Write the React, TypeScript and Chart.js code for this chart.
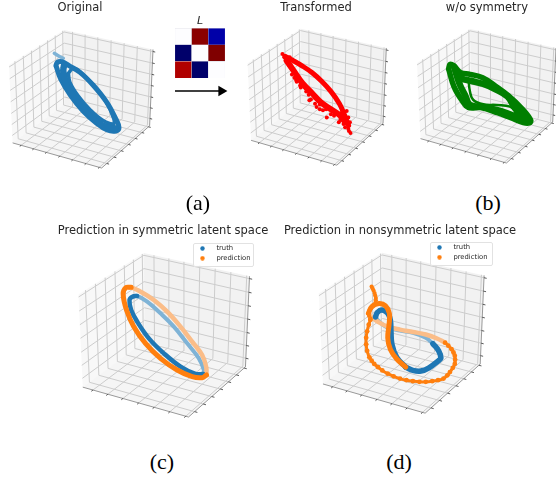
import React, { useEffect, useRef } from "react";
import { Chart, registerables } from "chart.js";

Chart.register(...registerables);

type P = number[];

// ---- values (units: crop units of each panel) ----
const originalOuter: P[] = [[168,197],[172,187],[185,185],[207,197],[240,217],[279,255],[319,305],[348,358],[357,383],[347,393],[322,390],[288,368],[250,334],[211,285],[182,237]];
const originalInner: P[] = [[205,220],[220,205],[245,220],[281,256],[316,302],[341,355],[340,372],[307,360],[271,330],[235,288],[210,247]];
const originalMiddle: P[] = [[192,196],[190,215],[200,250],[230,295],[265,335],[305,375],[345,385]];
const originalTail: P[] = [[163,160],[176,168],[190,175]];

const redBand: P[] = [[370,172],[395,185],[425,202],[455,222],[485,248],[515,280],[542,318],[557,350],[571,385]];
const redLower: P[] = [[375,185],[400,220],[425,255],[455,285],[485,315],[515,335],[545,355],[560,375]];
const redScatter: P[] = [[362,165],[368,175],[378,180],[385,175],[393,212],[384,200],[392,228],[405,245],[407,250],[400,238],[418,262],[420,268],[412,240],[437,280],[445,290],[447,307],[435,270],[452,305],[465,300],[470,328],[465,318],[480,320],[480,335],[490,338],[502,360],[500,335],[525,355],[515,350],[530,345],[540,375],[545,368],[550,345],[555,380],[560,365],[565,340],[570,360],[575,375],[570,395],[577,408],[572,402],[560,390]];

const greenA: P[] = [[146,207],[150,193],[162,198],[182,218],[210,223],[248,233],[286,258],[325,287],[365,325],[392,360],[388,369],[370,368],[332,353],[292,338],[242,323],[205,322],[185,300],[162,260]];
const greenB: P[] = [[162,200],[185,235],[215,243],[250,252],[285,267],[323,290],[345,325],[375,360],[330,343],[290,330],[245,320],[210,315],[195,285],[178,250]];
const greenC: P[] = [[205,235],[210,275],[220,300],[250,313],[290,315],[330,320],[360,345]];

const symTruthFront: P[] = [[290,228],[276,230],[267,240],[272,270],[292,308],[325,355],[370,400],[420,440],[465,462],[488,462]];
const symTruthBack: P[] = [[276,230],[290,228],[320,245],[360,280],[400,320],[440,370],[475,415],[490,450],[488,462]];
const symPredFront: P[] = [[272,202],[256,203],[248,222],[258,270],[280,320],[315,370],[360,415],[410,450],[455,470],[485,473],[498,465]];
const symPredBack: P[] = [[256,203],[272,202],[300,215],[340,240],[380,275],[420,320],[455,365],[485,405],[497,440],[498,465]];

const nonTruthFront: P[] = [[378,450],[400,460],[425,462],[450,452],[480,430],[487,422],[480,400],[462,378]];
const nonTruthBack: P[] = [[462,378],[440,360],[400,345],[360,338],[320,328],[295,310],[284,296]];
const nonTruthLoop: P[] = [[284,296],[290,282],[305,275],[322,285],[330,305],[332,340],[335,380],[350,420],[378,450]];
const nonPredLoop: P[] = [[262,285],[272,265],[295,255],[315,262],[327,285],[326,320],[322,360],[330,395],[350,425],[378,450]];
const nonPredArc: P[] = [[268,305],[263,320],[258,340],[255,360],[255,380],[258,400],[265,420],[272,430],[280,440],[292,450],[305,460],[322,470],[340,478],[360,485],[380,490],[400,493],[420,495],[440,495],[460,493],[478,490],[495,485],[507,475],[515,465],[524,452],[530,440],[531,427],[530,415],[526,405],[520,395],[510,384],[500,375]];
const nonPredBack: P[] = [[500,375],[475,362],[440,350],[400,342],[360,335],[320,325],[290,310],[270,295],[262,285]];
const nonPredTail: P[] = [[272,203],[275,209],[278,215],[281,223],[283,230],[285,238],[285,245],[284,252],[283,258],[275,264],[270,270],[265,277],[262,285],[264,293],[268,300],[268,305]];

const matrixRows: string[][] = [
  ["#fdfdff", "#8b0000", "#0000a8"],
  ["#00006a", "#fdfdff", "#800000"],
  ["#b00000", "#00006a", "#fdfdff"],
];
const matrixCols = ["1", "2", "3"];
const legendNames = ["truth", "prediction"];
const tickFractions = [0.1, 0.245, 0.39, 0.54, 0.685, 0.83, 0.975];

const BLUE = "#1f77b4";
const ORANGE = "#ff7f0e";
const BLUE_BACK = "#7fb3d6";
const ORANGE_BACK = "#fbbd88";
const GREEN = "#007f00";
const RED = "#ff0000";

// ---- mplot3d style box (elev 30, azim -60, dist 10) ----
function rawProject(p: number[]): number[] {
  const el = (30 * Math.PI) / 180, az = (-60 * Math.PI) / 180, d = 10;
  const n = [Math.cos(el) * Math.cos(az), Math.cos(el) * Math.sin(az), Math.sin(el)];
  const un = Math.hypot(n[1], n[0]);
  const u = [-n[1] / un, n[0] / un, 0];
  const v = [n[1] * u[2] - n[2] * u[1], n[2] * u[0] - n[0] * u[2], n[0] * u[1] - n[1] * u[0]];
  const q = [p[0] - 0.5 - d * n[0], p[1] - 0.5 - d * n[1], p[2] - 0.5 - d * n[2]];
  const dot = (a: number[], b: number[]) => a[0] * b[0] + a[1] * b[1] + a[2] * b[2];
  const w = -dot(n, q);
  return [dot(u, q) / w, dot(v, q) / w];
}
const cubeRaw = [0, 1].flatMap((a) => [0, 1].flatMap((b) => [0, 1].map((c) => rawProject([a, b, c]))));
const rawX = cubeRaw.map((c) => c[0]);
const rawY = cubeRaw.map((c) => c[1]);
const rawBox = [Math.min(...rawX), Math.max(...rawX), Math.min(...rawY), Math.max(...rawY)];

type PanelCfg = {
  title: string; cx: number; half: number; top: number; height: number;
  ox: number; oy: number; cube: number[]; series: any[];
};

const line = (pts: P[], color: string, width: number, extra: any = {}) => ({
  data: pts.map((p) => ({ x: p[0], y: p[1] })),
  borderColor: color, backgroundColor: color, borderWidth: width,
  pointRadius: 0, tension: 0.4, borderCapStyle: "round", borderJoinStyle: "round", fill: false, ...extra,
});
const loop = (pts: P[]) => [...pts, pts[0]];
const dots = (pts: P[], color: string, r: number) => ({
  data: pts.map((p) => ({ x: p[0], y: p[1] })),
  showLine: false, pointRadius: r, pointBackgroundColor: color, pointBorderWidth: 0, borderColor: color, backgroundColor: color, fill: false,
});

const panels: PanelCfg[] = [
  { title: "Original", cx: 80, half: 80, top: 1, height: 175, ox: 0, oy: 0, cube: [9, 153, 30, 168], series: [
    line(originalTail, BLUE_BACK, 3.5),
    line(loop(originalOuter), BLUE, 5), line(originalMiddle, BLUE, 6.5), line(loop(originalInner), BLUE, 3.5),
  ]},
  { title: "Transformed", cx: 316, half: 80, top: 1, height: 175, ox: 160, oy: 0, cube: [244, 390, 29, 169], series: [
    line(redBand, RED, 5), line(redLower, RED, 6), dots(redScatter, RED, 2),
  ]},
  { title: "w/o symmetry", cx: 487, half: 72, top: 1, height: 175, ox: 400, oy: 0, cube: [417, 556, 29, 163], series: [
    line(loop(greenA), GREEN, 5.5), line(loop(greenB), GREEN, 6.5), line(greenC, GREEN, 2.5),
  ]},
  { title: "Prediction in symmetric latent space", cx: 162.5, half: 110, top: 224, height: 200, ox: 40, oy: 220, cube: [78, 249, 253, 417], series: [
    line(symTruthBack, BLUE_BACK, 4), line(symPredBack, ORANGE_BACK, 4.5),
    line(symTruthFront, BLUE, 4.5), line(symPredFront, ORANGE, 5),
  ]},
  { title: "Prediction in nonsymmetric latent space", cx: 400, half: 120, top: 224, height: 200, ox: 280, oy: 220, cube: [316, 487, 253, 417], series: [
    line(nonTruthBack, BLUE_BACK, 4), line(nonPredBack, ORANGE_BACK, 4.5),
    line(nonTruthLoop, BLUE, 5.5), line(nonTruthFront, BLUE, 5.5),
    line(nonPredLoop, ORANGE, 5), line(nonPredArc, ORANGE, 3), dots(nonPredArc, ORANGE, 2.4), dots(nonPredTail, ORANGE, 2.1),
  ]},
];

const TITLE_SIZE = 11.5;

function boxSeries(cfg: PanelCfg) {
  const [l, r, t, b] = cfg.cube;
  const map = (p: number[]) => {
    const q = rawProject(p);
    const fx = l + ((q[0] - rawBox[0]) / (rawBox[1] - rawBox[0])) * (r - l);
    const fy = b - ((q[1] - rawBox[2]) / (rawBox[3] - rawBox[2])) * (b - t);
    return { x: (fx - cfg.ox) * 3, y: (fy - cfg.oy) * 3 };
  };
  const gap = { x: NaN, y: NaN };
  const pane = (pts: number[][], color: string) => ({
    data: [...pts, pts[0]].map(map), borderWidth: 0, borderColor: "transparent", backgroundColor: color,
    pointRadius: 0, fill: "shape", tension: 0,
  });
  const grid: any[] = [], ticks: any[] = [];
  tickFractions.forEach((f) => {
    grid.push(map([f, 0, 0]), map([f, 1, 0]), map([f, 1, 1]), gap);
    grid.push(map([0, f, 0]), map([1, f, 0]), gap, map([0, f, 0]), map([0, f, 1]), gap);
    grid.push(map([0, 0, f]), map([0, 1, f]), map([1, 1, f]), gap);
    ticks.push(map([f, 0, 0]), map([f, -0.025, 0]), gap);
    ticks.push(map([1, f, 0]), map([1.025, f, 0]), gap);
    ticks.push(map([1, 1, f]), map([1.025, 1, f]), gap);
  });
  const edges = [map([0, 0, 0]), map([1, 0, 0]), map([1, 1, 0]), map([1, 1, 1])];
  const stroke = (data: any[], color: string, w: number) => ({
    data, borderColor: color, borderWidth: w, pointRadius: 0, tension: 0, fill: false, spanGaps: false,
  });
  return [
    pane([[0, 0, 0], [0, 1, 0], [0, 1, 1], [0, 0, 1]], "rgba(242,242,242,0.5)"),
    pane([[0, 1, 0], [1, 1, 0], [1, 1, 1], [0, 1, 1]], "rgba(230,230,230,0.5)"),
    pane([[0, 0, 0], [1, 0, 0], [1, 1, 0], [0, 1, 0]], "rgba(236,236,236,0.5)"),
    stroke(grid, "#cccccc", 1),
    stroke(edges, "#808080", 0.8),
    stroke(ticks, "#333333", 0.8),
  ];
}

function makePanel(canvas: HTMLCanvasElement, cfg: PanelCfg) {
  const T = TITLE_SIZE * 1.2;
  const left = cfg.cx - cfg.half, right = cfg.cx + cfg.half;
  // Chart.js paints the first dataset last, so the list runs from top mark to back pane.
  const datasets = [...boxSeries(cfg), ...cfg.series].reverse();
  return new Chart(canvas, {
    type: "line",
    data: { datasets: datasets as any },
    options: {
      animation: false, responsive: false, devicePixelRatio: 1,
      layout: { padding: 0 },
      scales: {
        x: { type: "linear", display: false, min: (left - cfg.ox) * 3, max: (right - cfg.ox) * 3 },
        y: { type: "linear", display: false, reverse: true, min: (cfg.top + T - cfg.oy) * 3, max: (cfg.top + cfg.height - cfg.oy) * 3 },
      },
      plugins: {
        legend: { display: false }, tooltip: { enabled: false },
        title: { display: true, text: cfg.title, color: "#262626", padding: 0, font: { family: "DejaVu Sans", size: TITLE_SIZE, weight: "normal" } },
      },
    } as any,
  });
}

function makeMatrix(canvas: HTMLCanvasElement) {
  return new Chart(canvas, {
    type: "bar",
    data: {
      labels: matrixCols,
      datasets: [...matrixRows].reverse().map((row) => ({
        data: row.map(() => 1), backgroundColor: row, borderColor: "#d4d4de", borderWidth: 0.4,
        barPercentage: 1, categoryPercentage: 1,
      })),
    },
    options: {
      animation: false, responsive: false, devicePixelRatio: 1, layout: { padding: 0 },
      scales: { x: { stacked: true, display: false }, y: { stacked: true, display: false, min: 0, max: 3 } },
      plugins: {
        legend: { display: false }, tooltip: { enabled: false },
        title: { display: true, text: "L", color: "#262626", padding: 0, font: { family: "DejaVu Sans", size: 11, style: "italic", weight: "normal" } },
      },
    } as any,
  });
}

function makeArrow(canvas: HTMLCanvasElement) {
  return new Chart(canvas, {
    type: "line",
    data: { datasets: [{
      data: [{ x: 0, y: 0 }, { x: 0.8, y: 0 }], borderColor: "#000", backgroundColor: "#000", borderWidth: 1.3,
      pointStyle: "triangle", pointRotation: 90, pointRadius: [0, 6], pointBackgroundColor: "#000", pointBorderWidth: 0, clip: false,
    }] } as any,
    options: {
      animation: false, responsive: false, devicePixelRatio: 1, layout: { padding: 0 },
      scales: { x: { type: "linear", display: false, min: 0, max: 1 }, y: { display: false, min: -1, max: 1 } },
      plugins: { legend: { display: false }, tooltip: { enabled: false } },
    } as any,
  });
}

function circleSprite(color: string) {
  const c = document.createElement("canvas");
  c.width = 5; c.height = 5;
  const g = c.getContext("2d")!;
  g.fillStyle = color;
  g.beginPath(); g.arc(2.5, 2.5, 2.2, 0, Math.PI * 2); g.fill();
  return c;
}

function makeLegend(canvas: HTMLCanvasElement) {
  return new Chart(canvas, {
    type: "scatter",
    data: { datasets: legendNames.map((n, i) => ({
      label: n, data: [], backgroundColor: [BLUE, ORANGE][i], borderColor: [BLUE, ORANGE][i], pointStyle: circleSprite([BLUE, ORANGE][i]), borderWidth: 0,
    })) } as any,
    options: {
      animation: false, responsive: false, devicePixelRatio: 1, layout: { padding: 0 },
      scales: { x: { display: false }, y: { display: false } },
      plugins: {
        tooltip: { enabled: false },
        legend: { position: "left", align: "start", maxWidth: 70, labels: {
          usePointStyle: true, pointStyleWidth: 21, boxHeight: 3, padding: 3, color: "#262626",
          font: { family: "DejaVu Sans", size: 6.8 },
        } },
      },
    } as any,
  });
}

const abs = (left: number, top: number, width: number, height: number): React.CSSProperties => ({ position: "absolute", left, top, width, height });
const subLabels = [["(a)", 198, 203], ["(b)", 488, 203], ["(c)", 162, 462], ["(d)", 399, 462]] as [string, number, number][];
const legendBoxes = [[192.7, 242.7, 61.3, 24], [430, 241.7, 63, 24]];
const legendCanvases = [[188.5, 241.5], [426, 240.5]];

export default function App() {
  const panelRefs = useRef<(HTMLCanvasElement | null)[]>([]);
  const legendRefs = useRef<(HTMLCanvasElement | null)[]>([]);
  const matrixRef = useRef<HTMLCanvasElement | null>(null);
  const arrowRef = useRef<HTMLCanvasElement | null>(null);

  useEffect(() => {
    const charts: Chart[] = [];
    panels.forEach((cfg, i) => charts.push(makePanel(panelRefs.current[i]!, cfg)));
    charts.push(makeMatrix(matrixRef.current!));
    charts.push(makeArrow(arrowRef.current!));
    legendRefs.current.forEach((c) => charts.push(makeLegend(c!)));
    return () => charts.forEach((c) => c.destroy());
  }, []);

  return (
    <div style={{ position: "fixed", left: 0, top: 0, width: 556, height: 478, overflow: "hidden", background: "#fff", filter: "blur(0.35px)" }}>
      {panels.map((p, i) => (
        <canvas key={p.title} ref={(el) => { panelRefs.current[i] = el; }} width={p.half * 2} height={p.height}
          style={abs(p.cx - p.half, p.top, p.half * 2, p.height)} />
      ))}
      <canvas ref={matrixRef} width={50} height={63} style={abs(175, 15, 50, 63)} />
      <canvas ref={arrowRef} width={70} height={14} style={abs(169, 84, 70, 14)} />
      {legendBoxes.map((b, i) => (
        <div key={i} style={{ ...abs(b[0], b[1], b[2], b[3]), boxSizing: "border-box", border: "1px solid #e2e2e2", borderRadius: 2, background: "rgba(255,255,255,0.8)" }} />
      ))}
      {legendCanvases.map((b, i) => (
        <canvas key={i} ref={(el) => { legendRefs.current[i] = el; }} width={70} height={26} style={abs(b[0], b[1], 70, 26)} />
      ))}
      {subLabels.map(([t, x, y]) => (
        <div key={t} style={{ position: "absolute", left: x - 30, top: y - 14, width: 60, height: 28, lineHeight: "28px", textAlign: "center", fontFamily: "'Liberation Serif'", fontSize: 22, color: "#000" }}>{t}</div>
      ))}
    </div>
  );
}
